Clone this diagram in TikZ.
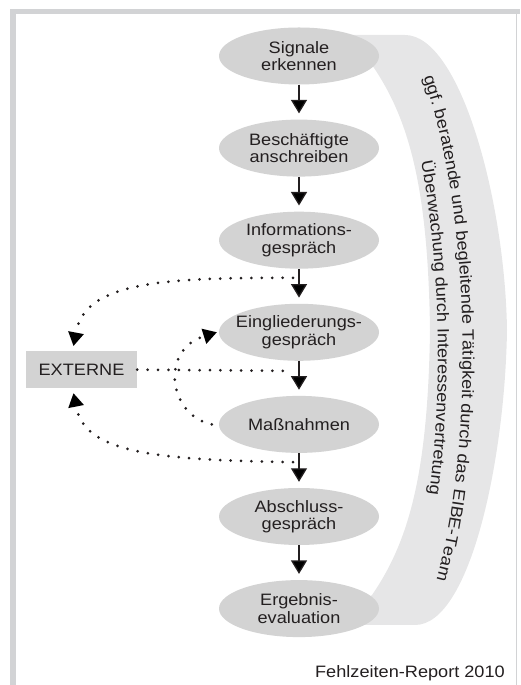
\documentclass[tikz,border=0pt]{standalone}
\usepackage{fontspec}
\setmainfont{Liberation Sans}[FakeStretch=1.1]
\usepackage{tikz}
\usetikzlibrary{arrows.meta,positioning,calc,shapes.geometric,decorations.text}
\definecolor{fzFrame}{HTML}{D2D3D5}
\definecolor{fzStage}{HTML}{D3D3D3}
\definecolor{fzBand}{HTML}{E6E6E7}
\definecolor{fzText}{HTML}{231F20}
\newcommand{\fzfont}{\fontsize{16.5}{17.3}\selectfont}
\tikzset{
  stage/.style={
    ellipse,
    fill=fzStage,
    align=center,
    font=\fzfont,
    text=fzText,
    minimum width=160pt,
    minimum height=57pt,
    inner xsep=-12pt,
    inner ysep=0pt
  },
  extbox/.style={
    rectangle,
    fill=fzStage,
    font=\fzfont,
    text=fzText,
    minimum width=111pt,
    minimum height=37pt
  },
  flow/.style={-{Triangle[length=13.5pt,width=16pt]}, line width=1.3pt, draw=fzText, shorten >=6pt},
  dotline/.style={line width=3pt, line cap=round, dash pattern=on 0pt off 10.4pt, draw=fzText},
  dotarrow/.style={dotline, -{Triangle[length=13.5pt,width=16pt,line width=0pt]}}
}

\begin{document}
\begin{tikzpicture}[x=1pt,y=1pt,node distance=34.7pt]
  \useasboundingbox (0,0) rectangle (520,685);
  % frame
  \fill[fzFrame] (10,0) rectangle (16,676);
  \fill[fzFrame] (10,671) rectangle (520,676);
  \draw[fzFrame, line width=1pt] (516,671) -- (516,0);
  % band behind the steps
  \fill[fzBand] (340,650) -- (405,650) .. controls (460,650) and (505,485) .. (507,355)
    .. controls (505,225) and (470,60) .. (415,60) -- (340,60) -- (372,90)
    .. controls (410,145) and (428,215) .. (430,355)
    .. controls (428,495) and (410,565) .. (372,620) -- cycle;
  \path[decorate, decoration={text along path, text align=center, text color=fzText,
      text={|\fzfont|ggf. beratende und begleitende Tätigkeit durch das EIBE-Team}}]
    (418,623) .. controls (475,475) and (475,225) .. (432,90);
  \path[decorate, decoration={text along path, text align=center, text color=fzText,
      text={|\fzfont|Überwachung durch Interessenvertretung}}]
    (394,623) .. controls (450,475) and (450,225) .. (408,90);
  % steps
  \node[stage] (a1) at (299,629) {Signale\\erkennen};
  \node[stage, below=of a1] (a2) {Beschäftigte\\anschreiben};
  \node[stage, below=of a2] (a3) {Informations-\\gespräch};
  \node[stage, below=of a3] (a4) {Eingliederungs-\\gespräch};
  \node[stage, below=of a4] (a5) {Maßnahmen};
  \node[stage, below=of a5] (a6) {Abschluss-\\gespräch};
  \node[stage, below=of a6] (a7) {Ergebnis-\\evaluation};
  \node[extbox] (ext) at (81.5,315.4) {EXTERNE};
  \draw[flow] (a1) -- (a2);
  \draw[flow] (a2) -- (a3);
  \draw[flow] (a3) -- (a4);
  \draw[flow] (a4) -- (a5);
  \draw[flow] (a5) -- (a6);
  \draw[flow] (a6) -- (a7);
  % links to EXTERNE
  \coordinate (j1) at ($(a3.south)+(-6,-9)$);
  \coordinate (j2) at ($(a4.south)+(-6,-10)$);
  \coordinate (j3) at ($(a5.south)+(-6,-9)$);
  \draw[dotarrow] (j1) .. controls (150,408) and (85,400) .. ($(ext.north)+(-8,5)$);
  \draw[dotline] (ext.east) -- (j2);
  \draw[dotarrow] ($(a5.west)+(-7,0)$) .. controls (168,270) and (160,335) .. ($(a4.west)+(-2,0)$);
  \draw[dotarrow] (j3) .. controls (150,225) and (85,233) .. ($(ext.south)+(-8,-5)$);
  \node[font=\fzfont, text=fzText, anchor=base east, inner sep=0pt] (src) at (505,7) {Fehlzeiten-Report 2010};
\end{tikzpicture}
\end{document}
